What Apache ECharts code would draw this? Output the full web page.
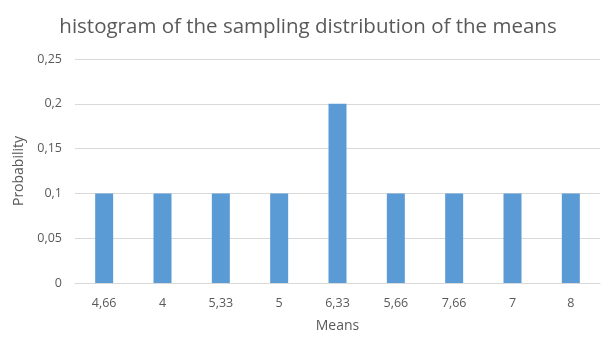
<!DOCTYPE html>
<html>
<head>
<meta charset="utf-8">
<script src="https://cdn.jsdelivr.net/npm/echarts@6/dist/echarts.min.js"></script>
<style>html,body{margin:0;padding:0;background:#fff}#c{width:616px;height:346px}</style>
</head>
<body>
<div id="c"></div>
<script>
const categories = ["4,66", "4", "5,33", "5", "6,33", "5,66", "7,66", "7", "8"];
const probabilities = [0.1, 0.1, 0.1, 0.1, 0.2, 0.1, 0.1, 0.1, 0.1];
const yTicks = [0, 0.05, 0.1, 0.15, 0.2, 0.25];

const chart = echarts.init(document.getElementById('c'));
const txt = '#595959';
const font = '"Open Sans", "Liberation Sans", sans-serif';
chart.setOption({
  animation: false,
  textStyle: { fontFamily: font },
  title: {
    text: 'histogram of the sampling distribution of the means',
    left: 'center', top: 12,
    textStyle: { color: txt, fontSize: 20.5, fontWeight: 'normal', fontFamily: font }
  },
  grid: { left: 75, right: 16, top: 59, bottom: 63 },
  xAxis: {
    type: 'category',
    data: categories,
    name: 'Means',
    nameLocation: 'middle',
    nameGap: 36,
    nameTextStyle: { color: txt, fontSize: 14, fontFamily: font },
    axisLine: { lineStyle: { color: '#d9d9d9' } },
    axisTick: { show: false },
    axisLabel: { color: txt, fontSize: 12.5, margin: 14, fontFamily: font }
  },
  yAxis: {
    type: 'value',
    min: yTicks[0], max: yTicks[yTicks.length - 1], interval: 0.05,
    name: 'Probability',
    nameLocation: 'middle',
    nameGap: 47,
    nameTextStyle: { color: txt, fontSize: 14, fontFamily: font },
    axisLine: { show: false },
    axisTick: { show: false },
    splitLine: { lineStyle: { color: '#d9d9d9' } },
    axisLabel: {
      color: txt, fontSize: 12.5, margin: 13, fontFamily: font,
      formatter: v => String(+v.toFixed(2)).replace('.', ',')
    }
  },
  series: [{
    type: 'bar',
    data: probabilities,
    barWidth: 18,
    itemStyle: { color: '#5b9bd5' }
  }]
});
</script>
</body>
</html>
